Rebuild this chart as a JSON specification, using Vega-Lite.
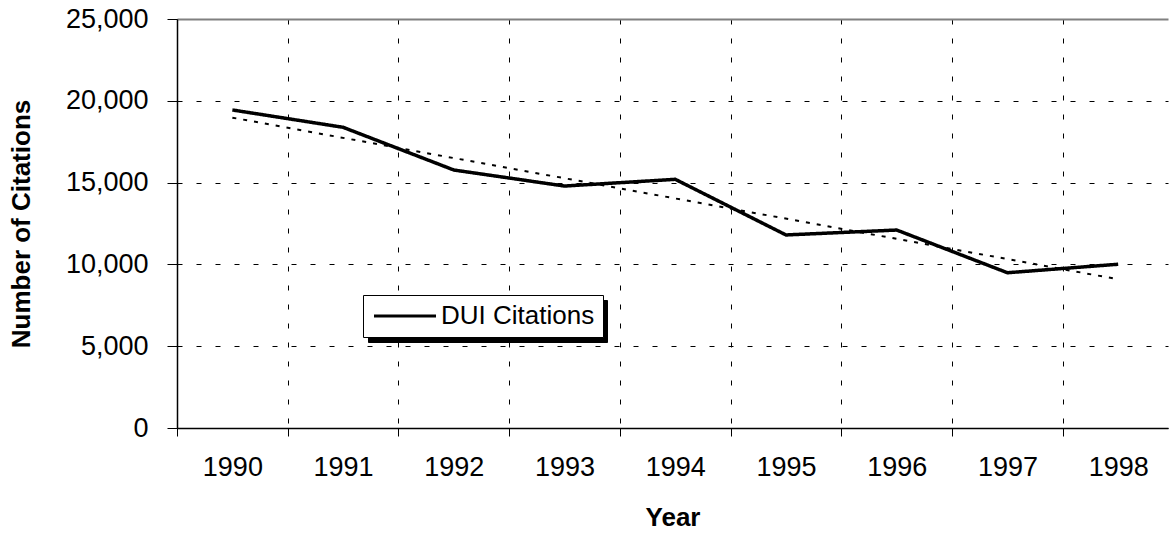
{
  "$schema": "https://vega.github.io/schema/vega-lite/v6.json",
  "width": 991,
  "height": 409,
  "autosize": {"type": "none"},
  "padding": {"left": 177, "top": 19, "right": 1, "bottom": 106},
  "config": {"font": "Liberation Sans", "view": {"stroke": null}},
  "datasets": {
    "dui": [
      {"year": 1990, "citations": 19440, "series": "DUI Citations", "shadow": "DUI Citations"},
      {"year": 1991, "citations": 18380, "series": "DUI Citations", "shadow": "DUI Citations"},
      {"year": 1992, "citations": 15770, "series": "DUI Citations", "shadow": "DUI Citations"},
      {"year": 1993, "citations": 14790, "series": "DUI Citations", "shadow": "DUI Citations"},
      {"year": 1994, "citations": 15200, "series": "DUI Citations", "shadow": "DUI Citations"},
      {"year": 1995, "citations": 11800, "series": "DUI Citations", "shadow": "DUI Citations"},
      {"year": 1996, "citations": 12100, "series": "DUI Citations", "shadow": "DUI Citations"},
      {"year": 1997, "citations": 9490, "series": "DUI Citations", "shadow": "DUI Citations"},
      {"year": 1998, "citations": 10010, "series": "DUI Citations", "shadow": "DUI Citations"}
    ],
    "trend": [
      {"year": 1990, "citations": 18970},
      {"year": 1998, "citations": 9090}
    ]
  },
  "resolve": {"axis": {"x": "independent"}},
  "layer": [
    {
      "data": {"name": "trend"},
      "mark": {"type": "line", "color": "black", "strokeWidth": 2, "strokeDash": [4, 7]},
      "encoding": {
        "x": {
          "field": "year", "type": "quantitative",
          "scale": {"domain": [1989.5, 1998.45], "nice": false, "zero": false},
          "axis": {
            "orient": "bottom",
            "values": [1989.5, 1990.5, 1991.5, 1992.5, 1993.5, 1994.5, 1995.5, 1996.5, 1997.5],
            "labels": false, "domain": false, "ticks": true, "tickSize": 8, "tickColor": "black", "tickWidth": 1,
            "grid": true, "gridColor": "black", "gridDash": [5, 14], "gridWidth": 1, "gridOpacity": 1,
            "title": null
          }
        },
        "y": {
          "field": "citations", "type": "quantitative",
          "scale": {"domain": [0, 25000], "nice": false},
          "axis": {
            "values": [0, 5000, 10000, 15000, 20000, 25000],
            "format": ",d", "tickSize": 10, "tickColor": "black", "tickWidth": 1,
            "domainColor": "black", "domainWidth": 1.5,
            "labelFontSize": 27, "labelColor": "black", "labelPadding": 19,
            "title": "Number of Citations", "titleFontSize": 26, "titleFontWeight": "bold", "titleColor": "black", "titlePadding": 31,
            "grid": true, "gridOpacity": 1,
            "gridColor": {"condition": {"test": "datum.value === 25000", "value": "#808080"}, "value": "black"},
            "gridDash": {"condition": {"test": "datum.value === 25000", "value": []}, "value": [5, 14]},
            "gridWidth": {"condition": {"test": "datum.value === 25000", "value": 2}, "value": 1}
          }
        }
      }
    },
    {
      "data": {"name": "dui"},
      "mark": {"type": "line", "color": "black", "strokeWidth": 3.5},
      "encoding": {
        "x": {
          "field": "year", "type": "quantitative",
          "axis": {
            "orient": "bottom",
            "values": [1990, 1991, 1992, 1993, 1994, 1995, 1996, 1997, 1998],
            "format": "d", "ticks": false, "tickSize": 0, "grid": false,
            "domain": true, "domainColor": "black", "domainWidth": 1.5,
            "labelFontSize": 27, "labelColor": "black", "labelPadding": 26,
            "title": "Year", "titleFontSize": 26, "titleFontWeight": "bold", "titleColor": "black", "titlePadding": 24
          }
        },
        "y": {
          "field": "citations", "type": "quantitative",
          "axis": {
            "values": [0, 5000, 10000, 15000, 20000, 25000],
            "format": ",d", "tickSize": 10, "tickColor": "black", "tickWidth": 1,
            "domainColor": "black", "domainWidth": 1.5,
            "labelFontSize": 27, "labelColor": "black", "labelPadding": 19,
            "title": "Number of Citations", "titleFontSize": 26, "titleFontWeight": "bold", "titleColor": "black", "titlePadding": 31,
            "grid": true, "gridOpacity": 1,
            "gridColor": {"condition": {"test": "datum.value === 25000", "value": "#808080"}, "value": "black"},
            "gridDash": {"condition": {"test": "datum.value === 25000", "value": []}, "value": [5, 14]},
            "gridWidth": {"condition": {"test": "datum.value === 25000", "value": 2}, "value": 1}
          }
        },
        "color": {
          "field": "shadow", "type": "nominal",
          "scale": {"range": ["black"]},
          "legend": {
            "orient": "none", "legendX": 191, "legendY": 281, "title": null,
            "fillColor": "black", "strokeColor": "black", "padding": 8,
            "symbolType": "M-1,0H20.4", "symbolSize": 400, "symbolStrokeWidth": 3, "symbolStrokeColor": "black", "symbolFillColor": "transparent",
            "labelFontSize": 26, "labelColor": "black", "labelOffset": 44,
            "labelExpr": "''"
          }
        },
        "strokeDash": {
          "field": "series", "type": "nominal",
          "scale": {"range": [[1, 0]]},
          "legend": {
            "orient": "none", "legendX": 186, "legendY": 276, "title": null,
            "fillColor": "white", "strokeColor": "black", "padding": 8,
            "symbolType": "M-1,0H5.2", "symbolSize": 400, "symbolStrokeWidth": 3, "symbolStrokeColor": "black", "symbolFillColor": "transparent",
            "labelFontSize": 26, "labelColor": "black", "labelOffset": 44
          }
        }
      }
    }
  ]
}
